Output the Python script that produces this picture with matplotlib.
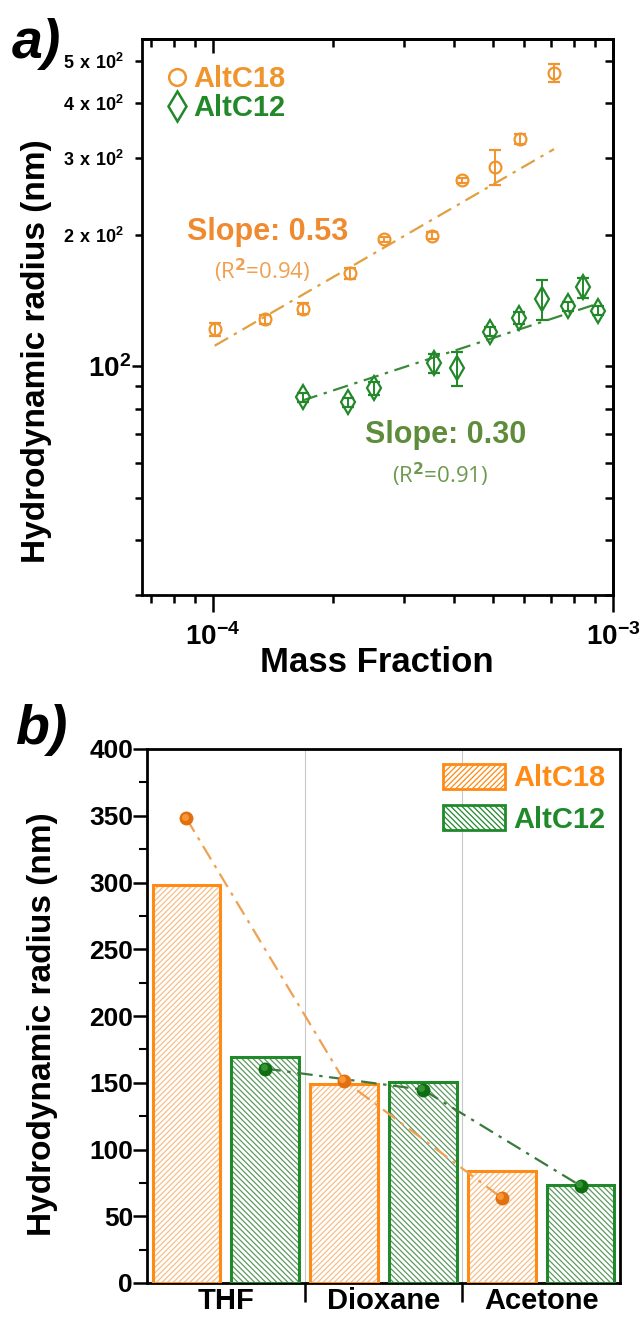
import numpy as np
import matplotlib
matplotlib.use("Agg")
import matplotlib.pyplot as plt
from matplotlib.lines import Line2D
from matplotlib.patches import Patch
from matplotlib.ticker import FixedLocator, NullFormatter, FuncFormatter
import matplotlib.transforms as mtransforms

FONT = ['Liberation Sans', 'DejaVu Sans']
plt.rcParams['font.family'] = FONT
plt.rcParams['font.weight'] = 'bold'
plt.rcParams['hatch.linewidth'] = 0.9

# ---- panel a data: radius vs mass fraction (log-log) ----
c18_frac = [1.01e-4, 1.35e-4, 1.675e-4, 2.2e-4, 2.68e-4, 3.52e-4, 4.2e-4, 5.07e-4, 5.85e-4, 7.12e-4]
c18_rad = [121.5, 128, 135.5, 163, 195, 199, 266, 286, 331, 469]
c18_err = [4, 3, 4, 5, 3, 4, 4, 27, 8, 22]

c12_frac = [1.675e-4, 2.17e-4, 2.53e-4, 3.56e-4, 4.07e-4, 4.93e-4, 5.83e-4, 6.65e-4, 7.7e-4, 8.4e-4, 9.17e-4]
c12_rad = [85, 82.8, 89.1, 101.7, 99, 120, 128.9, 142.5, 137, 151.4, 134]
c12_err = [2, 2, 3, 5, 9, 3, 4, 15, 3, 8, 3]

# fitted power laws: log10(R) = b + slope*log10(w)
fit_slope = [0.53, 0.30]
fit_icpt = [4.1646, 3.0546]
fit_r2 = [0.94, 0.91]
fit_xrange = [(1.01e-4, 7.12e-4), (1.675e-4, 9.17e-4)]

# ---- panel b data: radius by solvent ----
solvents = ['THF', 'Dioxane', 'Acetone']
bar_c18 = [298, 149.3, 84]
bar_c12 = [169.4, 150.3, 73.5]
dot_c18 = [348, 151.6, 63.8]
dot_c12 = [160.6, 144.8, 72.8]

ORA_A = '#F0952E'
GRN_A = '#22882A'
ORA_B = '#FF8A14'
GRN_B = '#20892A'
HATCH_C18 = '//////'
HATCH_C12 = '\\\\\\\\\\\\'

fig = plt.figure(figsize=(6.41, 13.18), dpi=100)

# ================= panel a =================
ax = fig.add_axes([142/641, 1-595/1318, 471/641, 556/1318])
ax.set_xscale('log')
ax.set_yscale('log')
ax.set_xlim(6.65e-5, 1e-3)
ax.set_ylim(30, 560)

for fr, rd, er, col, mk, ms in [(c18_frac, c18_rad, c18_err, ORA_A, 'o', 8.5),
                                 (c12_frac, c12_rad, c12_err, GRN_A, 'd', 12)]:
    ax.errorbar(fr, rd, yerr=er, fmt=mk, ms=ms, mfc='none', mec=col, mew=1.6,
                ecolor=col, elinewidth=1.4, capsize=4, capthick=1.4, zorder=3)

for i, col in enumerate(['#E0A040', '#3A8A3A']):
    xs = np.array(fit_xrange[i])
    ys = 10 ** (fit_icpt[i] + fit_slope[i] * np.log10(xs))
    ax.plot(xs, ys, color=col, lw=1.6, ls=(0, (7, 3, 1.5, 3)), zorder=2)

ax.text(1.37e-4, 203, f'Slope: {fit_slope[0]:.2f}', color='#F08A30', fontsize=22,
        fontweight='bold', ha='center', va='center')
ax.text(1.33e-4, 165.6, f'(R$^2$={fit_r2[0]:.2f})', color='#F0A050', fontsize=16,
        fontweight='normal', ha='center', va='center', family=['Open Sans', 'DejaVu Sans'])
ax.text(3.82e-4, 69.8, f'Slope: {fit_slope[1]:.2f}', color='#5E8C3A', fontsize=22,
        fontweight='bold', ha='center', va='center')
ax.text(3.69e-4, 56.6, f'(R$^2$={fit_r2[1]:.2f})', color='#6E9A50', fontsize=16,
        fontweight='normal', ha='center', va='center', family=['Open Sans', 'DejaVu Sans'])

handles = [Line2D([], [], ls='none', marker='o', ms=12, mfc='white', mec=ORA_A, mew=1.8),
           Line2D([], [], ls='none', marker='d', ms=15, mfc='white', mec=GRN_A, mew=1.8)]
leg = ax.legend(handles, ['AltC18', 'AltC12'], loc='upper left', frameon=False,
                prop={'size': 21, 'weight': 'bold'}, handletextpad=0.05, handlelength=1.0,
                labelspacing=0.05, borderaxespad=0.3, bbox_to_anchor=(0.0, 0.99))
for t, c in zip(leg.get_texts(), [ORA_A, GRN_A]):
    t.set_color(c)

# y ticks
ax.yaxis.set_major_locator(FixedLocator([100]))
ax.yaxis.set_minor_locator(FixedLocator([30, 40, 50, 60, 70, 80, 90, 200, 300, 400, 500]))
ax.yaxis.set_major_formatter(FuncFormatter(lambda v, p: r'$\mathregular{10^2}$'))
ax.yaxis.set_minor_formatter(FuncFormatter(
    lambda v, p: r'$\mathregular{%d\ x\ 10^2}$' % int(v / 100) if v >= 200 else ''))
ax.tick_params(axis='y', which='major', direction='out', length=7, width=1.8, pad=1, labelsize=20)
ax.tick_params(axis='y', which='minor', direction='out', length=5, width=1.8, pad=8, labelsize=13)
ax.xaxis.set_minor_formatter(NullFormatter())
ax.xaxis.set_major_formatter(FuncFormatter(lambda v, p: r'$\mathregular{10^{%d}}$' % round(np.log10(v))))
ax.tick_params(axis='x', which='major', direction='out', length=12, width=1.8, pad=8, labelsize=20)
ax.tick_params(axis='x', which='minor', direction='out', length=6, width=1.8)
for sp in ax.spines.values():
    sp.set_linewidth(2)

top = ax.secondary_xaxis('top')
top.tick_params(axis='x', which='major', direction='in', length=10, width=1.8, labeltop=False)
top.tick_params(axis='x', which='minor', direction='in', length=6, width=1.8)
top.xaxis.set_minor_formatter(NullFormatter())
top.spines['top'].set_linewidth(2)
right = ax.secondary_yaxis('right')
right.yaxis.set_major_locator(FixedLocator([100]))
right.yaxis.set_minor_locator(FixedLocator([30, 40, 50, 60, 70, 80, 90, 200, 300, 400, 500]))
right.tick_params(axis='y', which='both', direction='in', length=6, width=1.8,
                  labelright=False)
right.yaxis.set_minor_formatter(NullFormatter())
right.spines['right'].set_linewidth(2)

fig.text(377/641, 1-663/1318, 'Mass Fraction', fontsize=25, fontweight='bold',
         ha='center', va='center')
fig.text(37/641, 1-351/1318, 'Hydrodynamic radius (nm)', fontsize=24, fontweight='bold',
         rotation=90, ha='center', va='center')
fig.text(36/641, 1-44/1318, 'a)', fontsize=40, fontweight='bold', style='italic',
         ha='center', va='center')

# ================= panel b =================
bx = fig.add_axes([147/641, 1-1283/1318, 473/641, 534/1318])
pos = np.arange(len(solvents))
w = 0.43
for vals, off, hatch, edge, hcol in [(bar_c18, -0.25, HATCH_C18, ORA_B, '#F7BE88'),
                                      (bar_c12, 0.25, HATCH_C12, GRN_B, '#5E9A62')]:
    bx.bar(pos + off, vals, w, color='white', hatch=hatch, edgecolor=hcol, lw=0, zorder=2)
    bx.bar(pos + off, vals, w, color='none', edgecolor=edge, lw=2.2, zorder=3)

for vals, off, col, dark, lcol in [(dot_c18, -0.25, '#FF9A3A', '#E07010', '#F0A050'),
                                   (dot_c12, 0.25, '#3A9A3A', '#0E6E12', '#3A7A3A')]:
    bx.plot(pos + off, vals, color=lcol, lw=1.6, ls=(0, (7, 3, 1.5, 3)), zorder=4)
    bx.plot(pos + off, vals, 'o', ms=10, color=dark, mec='none', zorder=5)
    hl = mtransforms.offset_copy(bx.transData, fig=fig, x=-1.2, y=1.2, units='points')
    bx.plot(pos + off, vals, 'o', ms=5, color=col, mec='none', alpha=0.9,
            transform=hl, zorder=6)

for b in [0.5, 1.5]:
    bx.axvline(b, color='#C8C8C8', lw=0.8, zorder=1)

bx.set_xlim(-0.5, 2.5)
bx.set_ylim(0, 400)
bx.set_yticks(np.arange(0, 401, 50))
bx.set_yticks(np.arange(25, 400, 50), minor=True)
bx.tick_params(axis='y', which='major', direction='out', length=10, width=1.8, pad=0, labelsize=19)
bx.tick_params(axis='y', which='minor', direction='out', length=6, width=1.5)
bx.set_xticks([0.5, 1.5])
bx.set_xticklabels([])
bx.tick_params(axis='x', which='major', direction='out', length=14, width=1.8)
for p, name in zip(pos, solvents):
    bx.annotate(name, (p, 0), xycoords=('data', 'axes fraction'), xytext=(0, -3),
                textcoords='offset points', fontsize=21, fontweight='bold',
                ha='center', va='top')
for sp in bx.spines.values():
    sp.set_linewidth(2)

leg_handles = [Patch(facecolor='white', edgecolor=ORA_B, hatch=HATCH_C18, lw=2),
               Patch(facecolor='white', edgecolor=GRN_B, hatch=HATCH_C12, lw=2)]
leg2 = bx.legend(leg_handles, ['AltC18', 'AltC12'], loc='upper right', frameon=False,
                 prop={'size': 21, 'weight': 'bold'}, handlelength=2.1, handleheight=0.95,
                 handletextpad=0.3, labelspacing=0.45, borderaxespad=0.1)
for t, c in zip(leg2.get_texts(), [ORA_B, GRN_B]):
    t.set_color(c)

fig.text(43/641, 1-1024/1318, 'Hydrodynamic radius (nm)', fontsize=24, fontweight='bold',
         rotation=90, ha='center', va='center')
fig.text(41/641, 1-730/1318, 'b)', fontsize=40, fontweight='bold', style='italic',
         ha='center', va='center')

fig.savefig('out.png', dpi=100)
